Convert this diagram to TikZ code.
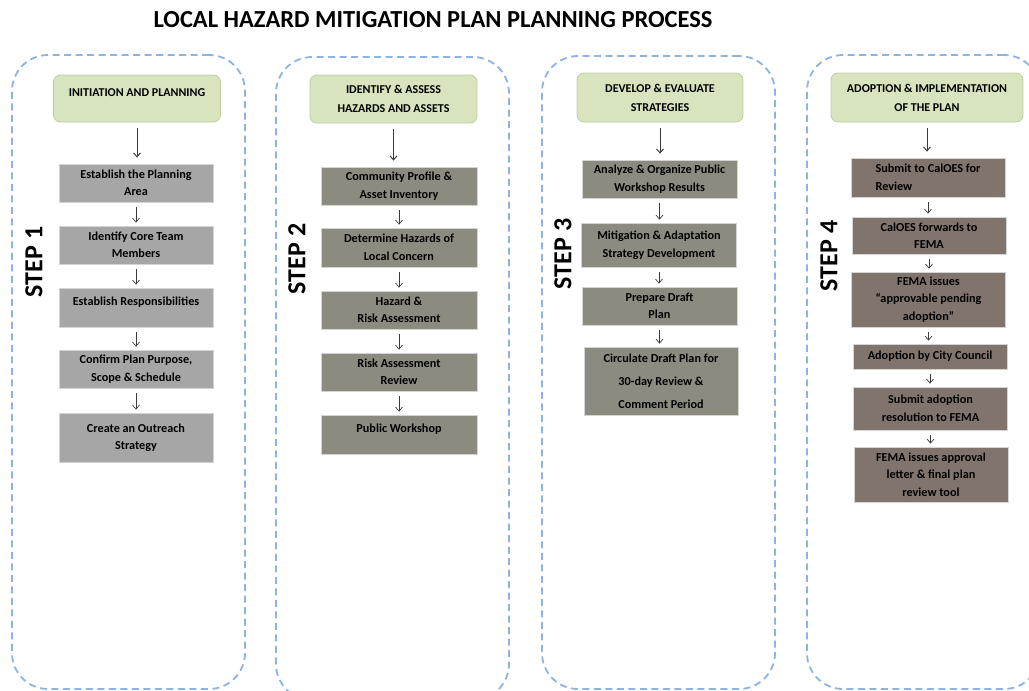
\documentclass[tikz,border=0pt]{standalone}
\usepackage{fontspec}
\setmainfont{Carlito}
\usetikzlibrary{arrows.meta}

\definecolor{frameblue}{HTML}{8DB3E2}
\definecolor{headgreen}{HTML}{D7E4BD}
\definecolor{headedge}{HTML}{BFCCA6}
\definecolor{taskgray}{HTML}{A6A6A6}
\definecolor{taskolive}{HTML}{8B8B7F}
\definecolor{taskbrown}{HTML}{80746C}
\definecolor{taskedge}{HTML}{D4D4D4}
\definecolor{arrowgray}{HTML}{3A3A3A}

\tikzset{
  framebox/.style={draw=frameblue, line width=1.8pt, dash pattern=on 7pt off 4.5pt, rounded corners=36pt, inner sep=0pt},
  phasehead/.style={draw=headedge, fill=headgreen, rounded corners=7pt, line width=0.8pt, minimum width=167, minimum height=47, inner sep=0pt, align=center, font=\bfseries\fontsize{12}{19}\selectfont},
  taskbox/.style={draw=taskedge, fill=#1, line width=0.8pt, minimum width=154, inner sep=0pt, align=center, font=\bfseries\fontsize{12.2}{17.5}\selectfont},
  steplabel/.style={rotate=90, font=\bfseries\fontsize{26}{26}\selectfont},
  flow/.style={->, draw=arrowgray, line width=0.7pt, shorten <=5pt, shorten >=3pt},
  headflow/.style={->, draw=arrowgray, line width=1pt, shorten <=6pt, shorten >=6pt}
}

\begin{document}
\begin{tikzpicture}[x=1pt, y=-1pt, >={Straight Barb[length=4pt,width=7pt]}]
  \useasboundingbox (0,0) rectangle (1029,691);

  % Title
  \node[font=\bfseries\fontsize{24.5}{24.5}\selectfont] (title) at (433,20) {LOCAL HAZARD MITIGATION PLAN PLANNING PROCESS};

  % Dashed frames
  \node[framebox, minimum width=233, minimum height=634] (frame1) at (128.5,372) {};
  \node[framebox, minimum width=233, minimum height=643] (frame2) at (392.5,378.5) {};
  \node[framebox, minimum width=233, minimum height=633] (frame3) at (658.5,372.5) {};
  \node[framebox, minimum width=233, minimum height=634] (frame4) at (923.5,372) {};

  % Step 1
  \node[steplabel] (step1) at (34,262) {STEP 1};
  \node[phasehead, text depth=11pt] (head1) at (137,98.5) {INITIATION AND PLANNING};

  \node[taskbox=taskgray, minimum height=38] (t1a) at (136,183) {Establish the Planning\\Area};
  \draw[headflow] (head1) -- (head1 |- t1a.north);

  \node[taskbox=taskgray, minimum height=38] (t1b) at (136,245) {Identify Core Team\\Members};
  \draw[flow] (t1a) -- (t1a |- t1b.north);

  \node[taskbox=taskgray, minimum height=39, text depth=13pt] (t1c) at (136,307.5) {Establish Responsibilities};
  \draw[flow] (t1b) -- (t1b |- t1c.north);

  \node[taskbox=taskgray, minimum height=38] (t1d) at (136,369) {Confirm Plan Purpose,\\Scope \& Schedule};
  \draw[flow] (t1c) -- (t1c |- t1d.north);

  \node[taskbox=taskgray, minimum height=49] (t1e) at (136,437.5) {Create an Outreach\\Strategy};
  \draw[flow] (t1d) -- (t1d |- t1e.north);

  % Step 2
  \node[steplabel] (step2) at (297,259) {STEP 2};
  \node[phasehead, minimum height=48] (head2) at (393.5,99) {IDENTIFY \& ASSESS\\HAZARDS AND ASSETS};

  \node[taskbox=taskolive, minimum width=156, minimum height=38] (t2a) at (399,186) {Community Profile \&\\Asset Inventory};
  \draw[headflow] (head2) -- (head2 |- t2a.north);

  \node[taskbox=taskolive, minimum width=156, minimum height=39] (t2b) at (399,247.5) {Determine Hazards of\\Local Concern};
  \draw[flow] (t2a) -- (t2a |- t2b.north);

  \node[taskbox=taskolive, minimum width=156, minimum height=38] (t2c) at (399,310) {Hazard \&\\Risk Assessment};
  \draw[flow] (t2b) -- (t2b |- t2c.north);

  \node[taskbox=taskolive, minimum width=156, minimum height=38] (t2d) at (399,372) {Risk Assessment\\Review};
  \draw[flow] (t2c) -- (t2c |- t2d.north);

  \node[taskbox=taskolive, minimum width=156, minimum height=39, text depth=13pt] (t2e) at (399,434.5) {Public Workshop};
  \draw[flow] (t2d) -- (t2d |- t2e.north);

  % Step 3
  \node[steplabel] (step3) at (563,254) {STEP 3};
  \node[phasehead, minimum width=166, minimum height=49] (head3) at (660,97.5) {DEVELOP \& EVALUATE\\STRATEGIES};

  \node[taskbox=taskolive, minimum width=155, minimum height=38] (t3a) at (659.5,179) {Analyze \& Organize Public\\Workshop Results};
  \draw[headflow] (head3) -- (head3 |- t3a.north);

  \node[taskbox=taskolive, minimum width=155, minimum height=44] (t3b) at (659,245) {Mitigation \& Adaptation\\Strategy Development};
  \draw[flow] (t3a) -- (t3a |- t3b.north);

  \node[taskbox=taskolive, minimum width=155, minimum height=38] (t3c) at (659.5,306) {Prepare Draft\\Plan};
  \draw[flow] (t3b) -- (t3b |- t3c.north);

  \node[taskbox=taskolive, minimum height=68] (t3d) at (661,381) {Circulate Draft Plan for\\[5.5pt]30-day Review \&\\[5.5pt]Comment Period};
  \draw[flow] (t3c) -- (t3c |- t3d.north);

  % Step 4
  \node[steplabel] (step4) at (829,256) {STEP 4};
  \node[phasehead, minimum width=192, minimum height=49] (head4) at (927,97.5) {ADOPTION \& IMPLEMENTATION\\OF THE PLAN};

  \node[taskbox=taskbrown, minimum height=39, align=left] (t4a) at (928,177.5) {Submit to CalOES for\\Review};
  \draw[headflow] (head4) -- (head4 |- t4a.north);

  \node[taskbox=taskbrown, minimum height=37] (t4b) at (929,235.5) {CalOES forwards to\\FEMA};
  \draw[flow] (t4a) -- (t4a |- t4b.north);

  \node[taskbox=taskbrown, minimum height=55] (t4c) at (928.5,299.5) {FEMA issues\\“approvable pending\\adoption”};
  \draw[flow] (t4b) -- (t4b |- t4c.north);

  \node[taskbox=taskbrown, minimum height=25] (t4d) at (930,356.5) {Adoption by City Council};
  \draw[flow] (t4c) -- (t4c |- t4d.north);

  \node[taskbox=taskbrown, minimum height=43] (t4e) at (930.5,408.5) {Submit adoption\\resolution to FEMA};
  \draw[flow] (t4d) -- (t4d |- t4e.north);

  \node[taskbox=taskbrown, minimum height=55] (t4f) at (931,474.5) {FEMA issues approval\\letter \& final plan\\review tool};
  \draw[flow] (t4e) -- (t4e |- t4f.north);
\end{tikzpicture}
\end{document}
